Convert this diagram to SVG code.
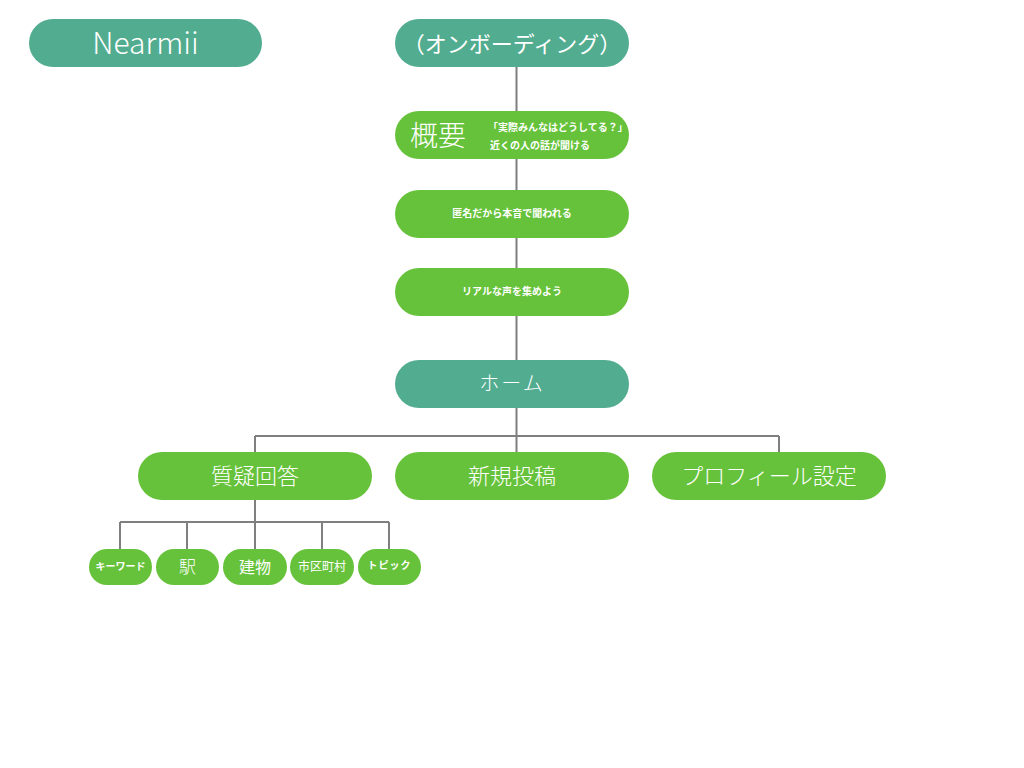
<svg xmlns="http://www.w3.org/2000/svg" width="1024" height="768" viewBox="0 0 1024 768">
<style>
.teal{fill:#52AC8F}
.green{fill:#66C23A}
.t{fill:#fff;font-family:"Noto Sans CJK JP","Noto Sans",sans-serif;text-anchor:middle;dominant-baseline:central}
.s{text-anchor:start}
.l{font-weight:300}
.b{font-weight:700}
.c{stroke:#7F7F7F;stroke-width:2;fill:none}
</style>
<rect width="1024" height="768" fill="#fff"/>
<g id="connectors">
<path class="c" d="M516.5 67V111M516.5 159V190M516.5 238V268M516.5 316V360M516.5 408V452M255 436H779M255 436V452M779 436V452"/>
<path class="c" d="M255 500V549M120 522H389M120 522V549M187 522V549M322 522V549M389 522V549"/>
</g>
<g id="n-nearmii"><rect class="teal" x="29" y="19" width="233" height="48" rx="24"/><text class="t l" x="145.5" y="41" font-size="30">Nearmii</text></g>
<g id="n-onboarding"><rect class="teal" x="395" y="19" width="234" height="48" rx="24"/><text class="t" x="512" y="42" font-size="22">（オンボーディング）</text></g>
<g id="n-gaiyou"><rect class="green" x="395" y="111" width="234" height="48" rx="24"/><text class="t l" x="438" y="134" font-size="28">概要</text><text class="t b s" x="488" y="126" font-size="10">「実際みんなはどうしてる？」</text><text class="t b s" x="490" y="144" font-size="10">近くの人の話が聞ける</text></g>
<g id="n-tokumei"><rect class="green" x="395" y="190" width="234" height="48" rx="24"/><text class="t b" x="512" y="212" font-size="10">匿名だから本音で聞われる</text></g>
<g id="n-real"><rect class="green" x="395" y="268" width="234" height="48" rx="24"/><text class="t b" x="512" y="290" font-size="10">リアルな声を集めよう</text></g>
<g id="n-home"><rect class="teal" x="395" y="360" width="234" height="48" rx="24"/><text class="t l" x="512" y="382" font-size="20" letter-spacing="2">ホーム</text></g>
<g id="n-qa"><rect class="green" x="138" y="452" width="234" height="48" rx="24"/><text class="t l" x="255" y="474" font-size="22">質疑回答</text></g>
<g id="n-post"><rect class="green" x="395" y="452" width="234" height="48" rx="24"/><text class="t l" x="512" y="474" font-size="22">新規投稿</text></g>
<g id="n-profile"><rect class="green" x="652" y="452" width="234" height="48" rx="24"/><text class="t l" x="769" y="474" font-size="22">プロフィール設定</text></g>
<g id="n-keyword"><rect class="green" x="89" y="549" width="63" height="36" rx="18"/><text class="t b" x="120.5" y="565" font-size="10">キーワード</text></g>
<g id="n-eki"><rect class="green" x="156" y="549" width="63" height="36" rx="18"/><text class="t l" x="187.5" y="565" font-size="17">駅</text></g>
<g id="n-tatemono"><rect class="green" x="223" y="549" width="64" height="36" rx="18"/><text class="t" x="255" y="566" font-size="16">建物</text></g>
<g id="n-shiku"><rect class="green" x="290" y="549" width="64" height="36" rx="18"/><text class="t" x="322" y="565" font-size="12">市区町村</text></g>
<g id="n-topic"><rect class="green" x="358" y="549" width="63" height="36" rx="18"/><text class="t b" x="389.5" y="564" font-size="10" letter-spacing="1">トピック</text></g>
</svg>
